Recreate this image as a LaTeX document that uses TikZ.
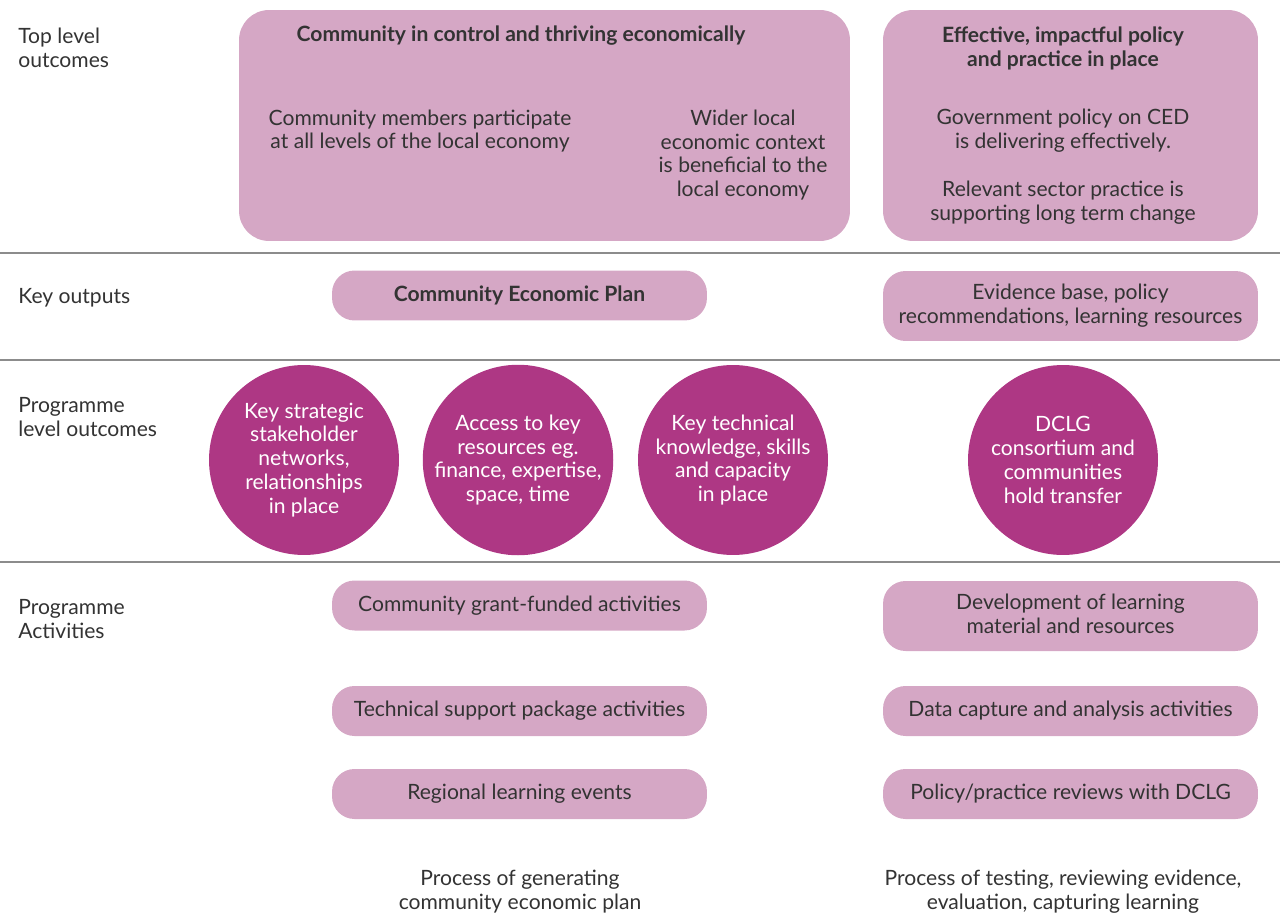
\documentclass[tikz,border=0pt]{standalone}
\usepackage{fontspec}
\setmainfont{Lato}
\definecolor{boxpink}{HTML}{D5A7C5}
\definecolor{circmag}{HTML}{AE3784}
\definecolor{txtgray}{HTML}{333333}
\definecolor{rulegray}{HTML}{8C8C8C}

\begin{document}
\begin{tikzpicture}[x=0.02cm,y=-0.02cm,
  every node/.style={font=\fontsize{12}{13.6}\selectfont, text=txtgray, align=center},
  bigbox/.style={fill=boxpink, rounded corners=0.6cm, minimum height=4.62cm, inner sep=0pt},
  pinkbox/.style={fill=boxpink, rounded corners=0.45cm, minimum width=7.5cm, minimum height=1cm, inner sep=0pt, text depth=0.5ex},
  outcome/.style={circle, fill=circmag, minimum size=3.8cm, text=white, inner sep=0pt},
  rowlabel/.style={anchor=west, align=left, inner sep=0pt},
  sep/.style={rulegray, line width=0.8pt}]

\useasboundingbox (0,0) rectangle (1280,912);

% row separators
\foreach \y in {253,360,562}
  \draw[sep] (0,\y) -- (1280,\y);

% row labels
\node[rowlabel] (lbltop) at (18,48) {Top level\\outcomes};
\node[rowlabel] (lblout) at (18,298) {Key outputs};
\node[rowlabel] (lblprog) at (18,417) {Programme\\level outcomes};
\node[rowlabel] (lblact) at (18,619) {Programme\\Activities};

% top level outcomes
\node[bigbox, minimum width=12.22cm] (thrive) at (544.5,125.5) {};
\node (thrivetitle) at (521,36) {\bfseries Community in control and thriving economically};
\node (members) at (420,131) {Community members participate\\at all levels of the local economy};
\node (wider) at (743,155) {Wider local\\economic context\\is beneficial to the\\local economy};

\node[bigbox, minimum width=7.5cm] (policy) at (1070.5,125.5) {};
\node (policytitle) at (1063,48) {\bfseries Effective, impactful policy\\\bfseries and practice in place};
\node (govt) at (1063,131) {Government policy on CED\\is delivering effectively.};
\node (sector) at (1063,203) {Relevant sector practice is\\supporting long term change};

% key outputs
\node[pinkbox] (plan) at (519.5,295.5) {\bfseries Community Economic Plan};
\node[pinkbox, minimum height=1.4cm] (evidence) at (1070.5,306) {Evidence base, policy\\recommendations, learning resources};

% programme level outcomes
\node[outcome] (networks) at (304,460) {Key strategic\\stakeholder\\networks,\\relationships\\in place};
\node[outcome] (access) at (518,460) {Access to key\\resources eg.\\finance, expertise,\\space, time};
\node[outcome] (skills) at (733,460) {Key technical\\knowledge, skills\\and capacity\\in place};
\node[outcome] (dclg) at (1063,460) {DCLG\\consortium and\\communities\\hold transfer};

% programme activities
\node[pinkbox] (grant) at (519.5,605.5) {Community grant-funded activities};
\node[pinkbox] (techsupp) at (519.5,711) {Technical support package activities};
\node[pinkbox] (regional) at (519.5,794) {Regional learning events};
\node[pinkbox, minimum height=1.4cm] (devmat) at (1070.5,616) {Development of learning\\material and resources};
\node[pinkbox] (datacap) at (1070.5,711) {Data capture and analysis activities};
\node[pinkbox] (reviews) at (1070.5,794) {Policy/practice reviews with DCLG};

% processes
\node (genproc) at (520,892) {Process of generating\\community economic plan};
\node (testproc) at (1063,892) {Process of testing, reviewing evidence,\\evaluation, capturing learning};

\end{tikzpicture}
\end{document}
